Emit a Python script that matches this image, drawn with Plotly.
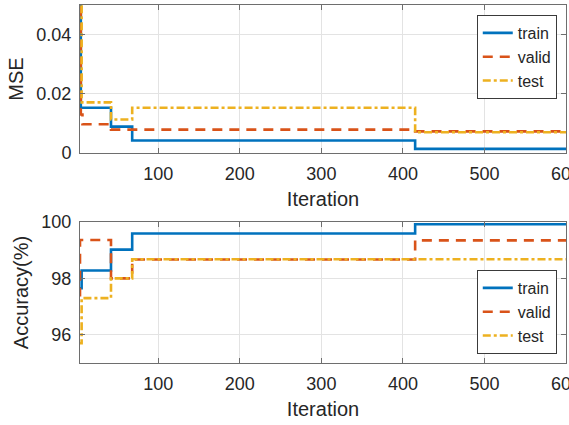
import plotly.graph_objects as go
from plotly.subplots import make_subplots

# Mean squared error per iteration (step curves)
mse_train_iter = [1, 5, 42, 68, 415, 600]
mse_train = [0.06, 0.0153, 0.0089, 0.0042, 0.0014, 0.0014]
mse_valid_iter = [1, 5, 7, 42, 415, 600]
mse_valid = [0.06, 0.013, 0.0097, 0.0079, 0.0073, 0.0073]
mse_test_iter = [1, 6, 42, 68, 415, 600]
mse_test = [0.06, 0.0171, 0.0113, 0.0153, 0.0070, 0.0070]

# Classification accuracy (%) per iteration
acc_train_iter = [1, 6, 42, 68, 415, 600]
acc_train = [97.65, 98.28, 99.02, 99.59, 99.92, 99.92]
acc_valid_iter = [1, 4, 42, 68, 415, 600]
acc_valid = [97.4, 99.36, 98.0, 98.67, 99.35, 99.35]
acc_test_iter = [1, 6, 42, 68, 600]
acc_test = [95.7, 97.3, 98.0, 98.68, 98.68]

series_names = ["train", "valid", "test"]
colors = ["#0072BD", "#D95319", "#EDB120"]
dashes = ["solid", "10px,7px", "8px,3px,3px,3px"]

FONT = "Liberation Sans, Arial, Helvetica, sans-serif"
TEXT = "#262626"
FRAME = "#6e6e6e"
GRID = "#e3e3e3"

fig = make_subplots(rows=2, cols=1)

top = [(mse_train_iter, mse_train), (mse_valid_iter, mse_valid), (mse_test_iter, mse_test)]
bottom = [(acc_train_iter, acc_train), (acc_valid_iter, acc_valid), (acc_test_iter, acc_test)]

for i, (x, y) in enumerate(top):
    fig.add_trace(go.Scatter(x=x, y=y, mode="lines", name=series_names[i],
                             line=dict(color=colors[i], width=2.6, dash=dashes[i], shape="hv"),
                             legend="legend"), row=1, col=1)
for i, (x, y) in enumerate(bottom):
    fig.add_trace(go.Scatter(x=x, y=y, mode="lines", name=series_names[i],
                             line=dict(color=colors[i], width=2.6, dash=dashes[i], shape="hv"),
                             legend="legend2"), row=2, col=1)

axis_common = dict(showline=True, linecolor=FRAME, linewidth=1, mirror="ticks",
                   ticks="inside", ticklen=5, tickcolor=FRAME, automargin=False,
                   showgrid=True, gridcolor=GRID, gridwidth=1, zeroline=False,
                   tickfont=dict(family=FONT, size=18, color=TEXT))

fig.update_xaxes(**axis_common, range=[4, 600], tick0=0, dtick=100,
                 ticklabeloverflow="allow", ticklabelstandoff=4,
                 title=dict(text="Iteration", font=dict(family=FONT, size=20, color=TEXT), standoff=9))
fig.update_yaxes(**axis_common, ticklabelstandoff=4,
                 title=dict(font=dict(family=FONT, size=20, color=TEXT), standoff=7))

fig.update_yaxes(range=[0, 0.05], dtick=0.02, tick0=0, title_text="MSE", row=1, col=1)
fig.update_yaxes(range=[95, 100], dtick=2, tick0=0, title_text="Accuracy(%)", row=2, col=1)

H = 425
legend_style = dict(x=0.981, xanchor="right", yanchor="top",
                    bgcolor="white", bordercolor="#3a3a3a", borderwidth=1,
                    font=dict(family=FONT, size=16, color=TEXT), tracegroupgap=0)
fig.update_layout(
    width=569, height=H,
    margin=dict(l=80, r=3, t=0, b=0),
    paper_bgcolor="white", plot_bgcolor="white",
    font=dict(family=FONT, color=TEXT),
    xaxis=dict(domain=[0, 1]),
    xaxis2=dict(domain=[0, 1]),
    yaxis=dict(domain=[(H - 153) / H, (H - 5) / H]),
    yaxis2=dict(domain=[(H - 363) / H, (H - 222) / H]),
    legend=dict(legend_style, y=(H - 15) / H),
    legend2=dict(legend_style, y=(H - 270) / H),
)

fig.write_html("out.html")
